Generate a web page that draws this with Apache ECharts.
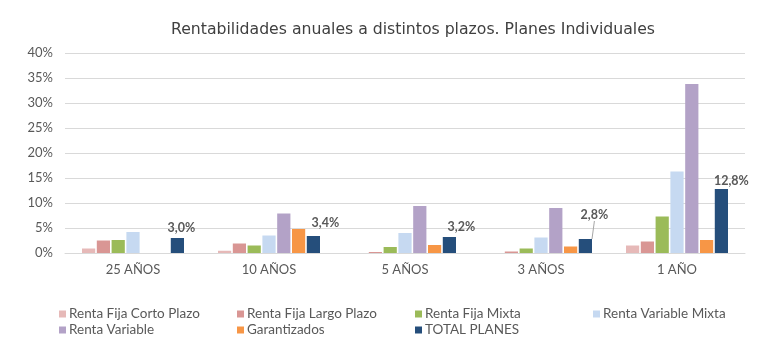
<!DOCTYPE html>
<html>
<head>
<meta charset="utf-8">
<script src="https://cdn.jsdelivr.net/npm/echarts@6/dist/echarts.min.js"></script>
<style>
  html, body { margin: 0; padding: 0; background: #fff; }
  #chart { width: 768px; height: 350px; }
</style>
</head>
<body>
<div id="chart"></div>
<script>
"use strict";
// data, in %
const categories = ["25 AÑOS", "10 AÑOS", "5 AÑOS", "3 AÑOS", "1 AÑO"];
const rfCorto = [0.9, 0.45, -0.2, -0.1, 1.5];
const rfLargo = [2.5, 1.9, 0.2, 0.3, 2.3];
const rfMixta = [2.6, 1.5, 1.2, 0.9, 7.3];
const rvMixta = [4.2, 3.5, 4.0, 3.1, 16.3];
const rentaVariable = [null, 7.9, 9.4, 9.0, 33.8];
const garantizados = [null, 4.8, 1.6, 1.3, 2.6];
const totalPlanes = [3.0, 3.4, 3.2, 2.8, 12.8];
const yTicks = [0, 5, 10, 15, 20, 25, 30, 35, 40];

// label nudges for the TOTAL PLANES values
const totalLabelShift = [[4, 0], [12, -3], [12, 0], [9, -14], [10, 2]];

const font = "Lato";
const textGray = "#595959";

const seriesDefs = [
  { name: "Renta Fija Corto Plazo", data: rfCorto, color: "#e6b9b8" },
  { name: "Renta Fija Largo Plazo", data: rfLargo, color: "#d99694" },
  { name: "Renta Fija Mixta", data: rfMixta, color: "#9bbb59" },
  { name: "Renta Variable Mixta", data: rvMixta, color: "#c6d9f1" },
  { name: "Renta Variable", data: rentaVariable, color: "#b3a2c7" },
  { name: "Garantizados", data: garantizados, color: "#f79646" },
  { name: "TOTAL PLANES", data: totalPlanes, color: "#254e7b" },
];

const series = seriesDefs.map((s) => {
  const isTotal = s.name === "TOTAL PLANES";
  return {
    name: s.name,
    type: "bar",
    barGap: "12%",
    barCategoryGap: "25%",
    itemStyle: { color: s.color },
    data: isTotal
      ? s.data.map((v, i) => ({ value: v, labelLine: { show: i === 3 } }))
      : s.data,
    label: {
      show: isTotal,
      position: "top",
      distance: 4,
      color: textGray,
      fontFamily: font,
      fontWeight: "bold",
      fontSize: 12.5,
      formatter: (p) => p.value.toFixed(1).replace(".", ",") + "%",
    },
    labelLine: { show: false, lineStyle: { color: "#a6a6a6", width: 1 } },
    labelLayout: isTotal
      ? (p) => ({ dx: totalLabelShift[p.dataIndex][0], dy: totalLabelShift[p.dataIndex][1] })
      : undefined,
  };
});

const option = {
  backgroundColor: "#fff",
  animation: false,
  title: {
    text: "Rentabilidades anuales a distintos plazos. Planes Individuales",
    left: 166,
    top: 17,
    textStyle: { color: "#404040", fontFamily: "DejaVu Sans", fontWeight: "normal", fontSize: 15.7 },
  },
  legend: {
    left: 54,
    top: 302,
    width: 720,
    itemWidth: 7,
    itemHeight: 7,
    itemGap: 2,
    icon: "rect",
    textStyle: { color: textGray, fontFamily: font, fontSize: 13.5, width: 166, lineHeight: 12, overflow: "none", padding: [0, 0, 0, -2] },
    data: seriesDefs.map((s) => s.name),
  },
  grid: { left: 65, right: 23, top: 53, bottom: 97, containLabel: false },
  xAxis: {
    type: "category",
    data: categories,
    axisLine: { lineStyle: { color: "#d9d9d9" } },
    axisTick: { show: false },
    axisLabel: { color: textGray, fontFamily: font, fontSize: 13, margin: 10 },
  },
  yAxis: {
    type: "value",
    min: yTicks[0],
    max: yTicks[yTicks.length - 1],
    interval: yTicks[1] - yTicks[0],
    axisLine: { show: false },
    axisTick: { show: false },
    splitLine: { lineStyle: { color: "#d9d9d9" } },
    axisLabel: { color: textGray, fontFamily: font, fontSize: 13, margin: 12, formatter: "{value}%" },
  },
  series: series,
};

const myChart = echarts.init(document.getElementById("chart"));
myChart.setOption(option);
</script>
</body>
</html>
